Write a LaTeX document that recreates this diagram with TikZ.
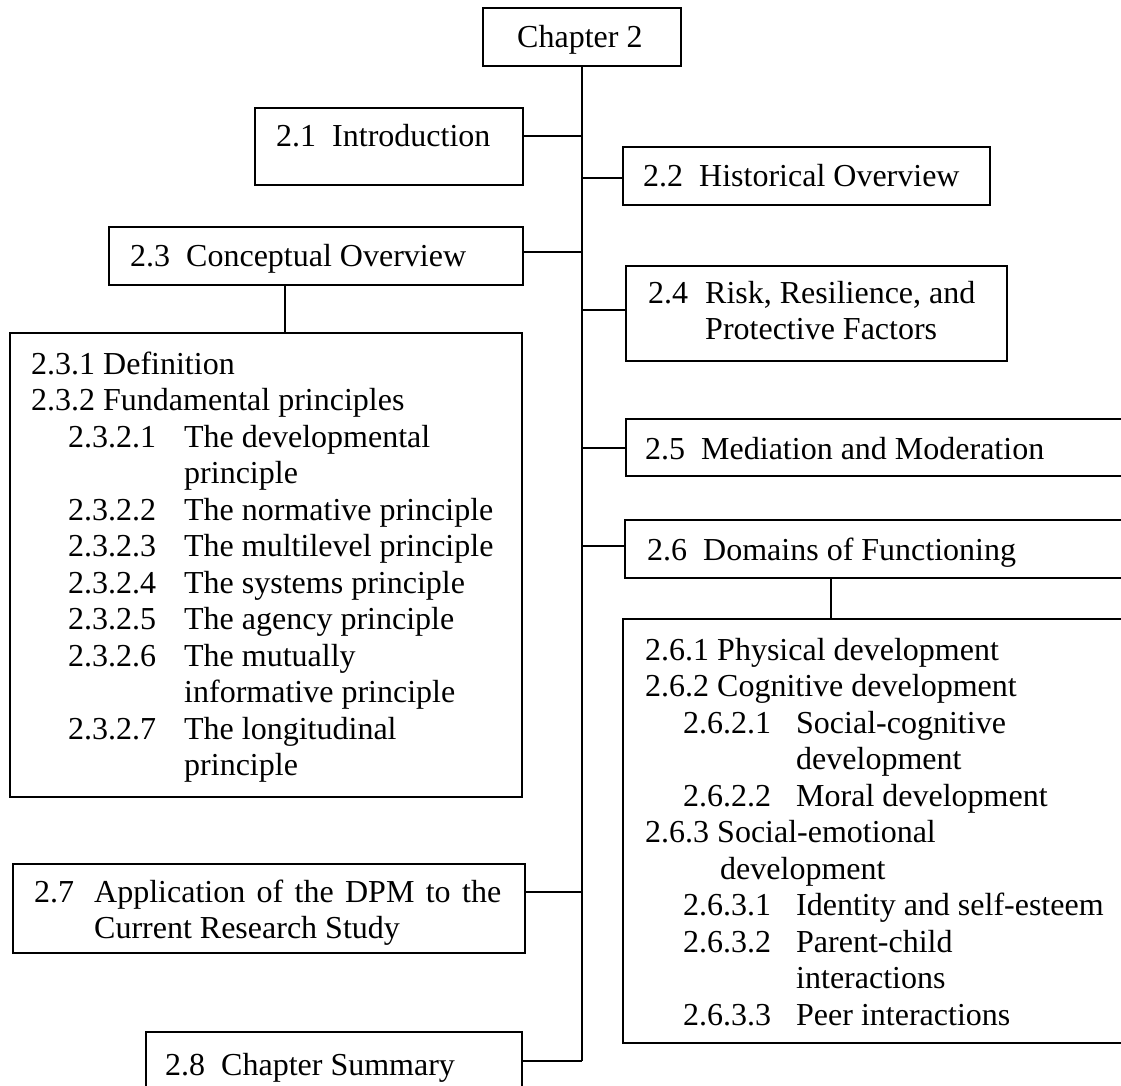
\documentclass[tikz,border=0pt]{standalone}
\usepackage{fontspec}
\setmainfont{Liberation Serif}
\newcommand\leftsub[2]{\hbox{\hspace*{37pt}\makebox[116pt][l]{#1}#2}}
\newcommand\leftcont[1]{\hbox{\hspace*{153pt}#1}}
\newcommand\rightsub[2]{\hbox{\hspace*{38pt}\makebox[113pt][l]{#1}#2}}
\newcommand\rightcont[1]{\hbox{\hspace*{151pt}#1}}
\newcommand\rightcontB[1]{\hbox{\hspace*{75pt}#1}}
\begin{document}
\begin{tikzpicture}[x=1pt,y=-1pt,
  box/.style={draw=black, line width=1.8pt, anchor=north west, inner sep=0pt, outer sep=0pt},
  lbl/.style={anchor=base west, inner sep=0pt, font=\fontsize{32pt}{36.5pt}\selectfont},
  conn/.style={line width=1.8pt}]
\useasboundingbox (0,0) rectangle (1121,1086);
\fill[white] (0,0) rectangle (1121,1086);
\clip (0,0) rectangle (1121,1086);

% boxes
\node[box, minimum width=198pt, minimum height=58pt] (ch) at (483,8) {};
\node[box, minimum width=268pt, minimum height=77pt] (s21) at (255,108) {};
\node[box, minimum width=367pt, minimum height=58pt] (s22) at (623,147) {};
\node[box, minimum width=414pt, minimum height=58pt] (s23) at (109,227) {};
\node[box, minimum width=381pt, minimum height=95pt] (s24) at (626,266) {};
\node[box, minimum width=520pt, minimum height=57pt] (s25) at (626,419) {};
\node[box, minimum width=520pt, minimum height=58pt] (s26) at (625,520) {};
\node[box, minimum width=520pt, minimum height=424pt] (s26c) at (623,619) {};
\node[box, minimum width=512pt, minimum height=464pt] (s23c) at (10,333) {};
\node[box, minimum width=512pt, minimum height=89pt] (s27) at (13,864) {};
\node[box, minimum width=376pt, minimum height=80pt] (s28) at (146,1032) {};

% connector heights and vertical positions
\coordinate (h21) at (0,136);
\coordinate (h22) at (0,178);
\coordinate (h23) at (0,252);
\coordinate (h24) at (0,310);
\coordinate (h25) at (0,448);
\coordinate (h26) at (0,546);
\coordinate (h27) at (0,892);
\coordinate (h28) at (0,1061);
\coordinate (v23) at (285,0);
\coordinate (v26) at (831,0);

% trunk
\draw[conn] (ch.south) -- (ch.south |- h28);
% branches
\draw[conn] (s21.east |- h21) -- (ch.south |- h21);
\draw[conn] (ch.south |- h22) -- (s22.west |- h22);
\draw[conn] (s23.east |- h23) -- (ch.south |- h23);
\draw[conn] (ch.south |- h24) -- (s24.west |- h24);
\draw[conn] (ch.south |- h25) -- (s25.west |- h25);
\draw[conn] (ch.south |- h26) -- (s26.west |- h26);
\draw[conn] (s27.east |- h27) -- (ch.south |- h27);
\draw[conn] (s28.east |- h28) -- (ch.south |- h28);
\draw[conn] (s23.south -| v23) -- (s23c.north -| v23);
\draw[conn] (s26.south -| v26) -- (s26c.north -| v26);

% texts
\node[lbl] (tch) at (517,48) {Chapter 2};
\node[lbl] (t21) at (276,147) {2.1\hspace{0.5em}Introduction};
\node[lbl] (t22) at (643,186) {2.2\hspace{0.5em}Historical Overview};
\node[lbl] (t23) at (130,266) {2.3\hspace{0.5em}Conceptual Overview};
\node[lbl] (t24) at (648,303) {\vtop{\hbox{\makebox[57pt][l]{2.4}Risk, Resilience, and}\hbox{\hspace*{57pt}Protective Factors}}};
\node[lbl] (t25) at (645,459) {2.5\hspace{0.5em}Mediation and Moderation};
\node[lbl] (t26) at (647,560) {2.6\hspace{0.5em}Domains of Functioning};
\node[lbl] (t27) at (34,902) {\vtop{\hbox{\makebox[60pt][l]{2.7}\makebox[407pt][s]{Application of the DPM to the}}\hbox{\hspace*{60pt}Current Research Study}}};
\node[lbl] (t28) at (165,1075) {2.8\hspace{0.5em}Chapter Summary};

\node[lbl] (t23c) at (31,374) {\vtop{%
\hbox{2.3.1 Definition}
\hbox{2.3.2 Fundamental principles}
\leftsub{2.3.2.1}{The developmental}
\leftcont{principle}
\leftsub{2.3.2.2}{The normative principle}
\leftsub{2.3.2.3}{The multilevel principle}
\leftsub{2.3.2.4}{The systems principle}
\leftsub{2.3.2.5}{The agency principle}
\leftsub{2.3.2.6}{The mutually}
\leftcont{informative principle}
\leftsub{2.3.2.7}{The longitudinal}
\leftcont{principle}}};

\node[lbl] (t26c) at (645,660) {\vtop{%
\hbox{2.6.1 Physical development}
\hbox{2.6.2 Cognitive development}
\rightsub{2.6.2.1}{Social-cognitive}
\rightcont{development}
\rightsub{2.6.2.2}{Moral development}
\hbox{2.6.3 Social-emotional}
\rightcontB{development}
\rightsub{2.6.3.1}{Identity and self-esteem}
\rightsub{2.6.3.2}{Parent-child}
\rightcont{interactions}
\rightsub{2.6.3.3}{Peer interactions}}};
\end{tikzpicture}
\end{document}
